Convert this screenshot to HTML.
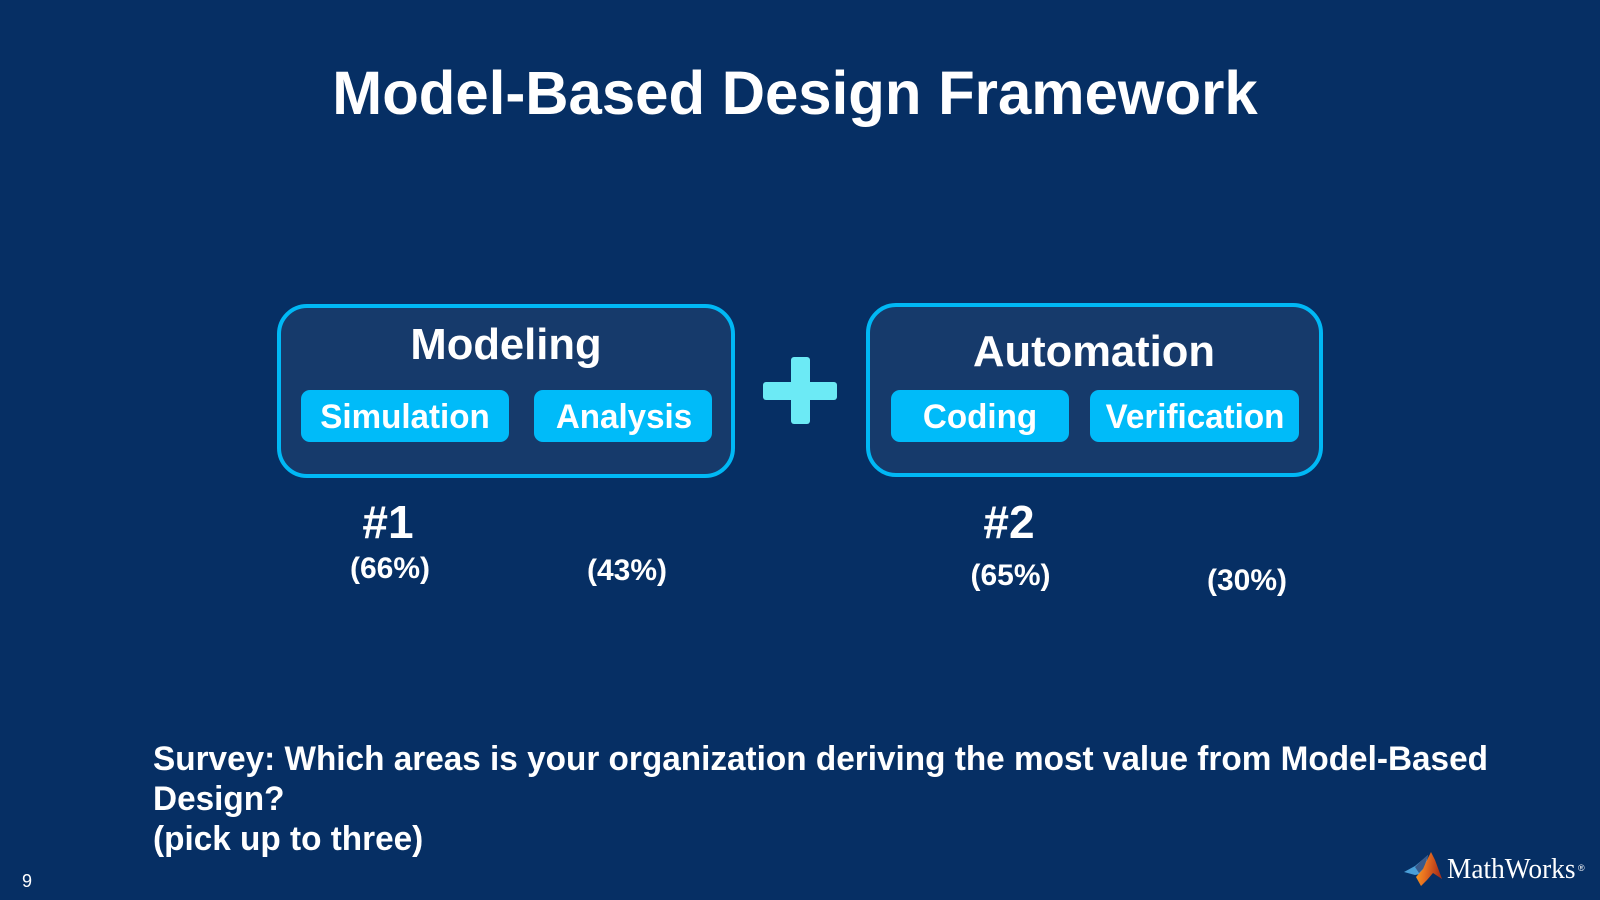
<!DOCTYPE html>
<html><head><meta charset="utf-8"><style>
html,body{margin:0;padding:0;width:1600px;height:900px;overflow:hidden;background:#062f64}
body{position:relative;font-family:"Liberation Sans",sans-serif;color:#fff}
.t{position:absolute;white-space:nowrap;font-weight:bold;line-height:1}
.c{transform:translateX(-50%)}
.n{transform:translateX(-50%) scaleX(.975)}
.box{position:absolute;box-sizing:border-box;background:#163a6b;border:4px solid #00b8f5;border-radius:30px}
.chip{position:absolute;background:#00bbf9;border-radius:9px;top:390px;height:52px}
.p{position:absolute;background:#6ceaf5;border-radius:3px}
</style></head><body>
<div class="t" style="left:795px;top:63.4px;font-size:61px;transform:translateX(-50%) scaleX(.982)">Model-Based Design Framework</div>
<div class="box" style="left:277px;top:304px;width:458px;height:174px"></div>
<div class="box" style="left:866px;top:303px;width:457px;height:174px"></div>
<div class="chip" style="left:301px;width:208px"></div>
<div class="chip" style="left:534px;width:178px"></div>
<div class="chip" style="left:891px;width:178px"></div>
<div class="chip" style="left:1090px;width:209px"></div>
<div class="p" style="left:791px;top:357px;width:19px;height:67px"></div>
<div class="p" style="left:763px;top:382px;width:74px;height:18px"></div>
<div class="t n" style="left:505.5px;top:323px;font-size:44px;transform:translateX(-50%) scaleX(.99)">Modeling</div>
<div class="t n" style="left:1094px;top:330px;font-size:44px;transform:translateX(-50%) scaleX(.99)">Automation</div>
<div class="t n" style="left:405px;top:400px;font-size:34px">Simulation</div>
<div class="t n" style="left:623.5px;top:400px;font-size:34px">Analysis</div>
<div class="t n" style="left:980px;top:400px;font-size:34px">Coding</div>
<div class="t n" style="left:1195px;top:400px;font-size:34px">Verification</div>
<div class="t c" style="left:388px;top:499px;font-size:46px">#1</div>
<div class="t c" style="left:1009px;top:499px;font-size:46px">#2</div>
<div class="t c" style="left:390px;top:554px;font-size:30px">(66%)</div>
<div class="t c" style="left:627px;top:556px;font-size:30px">(43%)</div>
<div class="t c" style="left:1010.5px;top:561px;font-size:30px">(65%)</div>
<div class="t c" style="left:1247px;top:566px;font-size:30px">(30%)</div>
<div class="t" style="left:153px;top:739px;font-size:34px;line-height:40px;transform:scaleX(.98);transform-origin:left top">Survey: Which areas is your organization deriving the most value from Model-Based<br>Design?<br>(pick up to three)</div>
<div class="t" style="left:22px;top:872px;font-size:18px;font-weight:normal">9</div>
<svg style="position:absolute;left:1400px;top:848px" width="50" height="42" viewBox="1400 848 50 42">
<defs>
<linearGradient id="g" x1="0" y1="0" x2="1" y2="0.2">
<stop offset="0" stop-color="#f5a623"/><stop offset=".45" stop-color="#e8701f"/><stop offset="1" stop-color="#a8301a"/>
</linearGradient>
</defs>
<polygon points="1404,872 1415,866 1421,861 1428,855 1426,864 1420,874 1415,875" fill="#4a9fd8"/>
<polygon points="1415,867 1421,861 1428,855 1424,868 1419,873" fill="#3a5a8a"/>
<polygon points="1431,852 1435,860 1442,879 1433,873 1427,880 1421,886 1416,877 1423,869 1427,860" fill="url(#g)"/>
</svg>
<div style="position:absolute;left:1447px;top:855.5px;font-family:'Liberation Serif',serif;font-size:28.5px;line-height:1;white-space:nowrap;transform:scaleX(.96);transform-origin:left top">MathWorks</div>
<div style="position:absolute;left:1578px;top:864px;font-family:'Liberation Sans',sans-serif;font-size:9px;line-height:1">®</div>
</body></html>
